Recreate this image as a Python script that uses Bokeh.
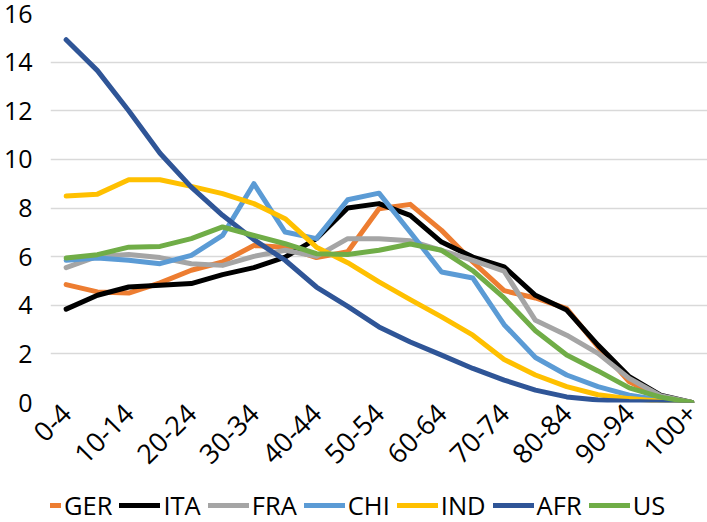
import math
from bokeh.plotting import figure
from bokeh.layouts import column
from bokeh.models import Range1d, FixedTicker, SingleIntervalTicker, Legend, LegendItem
from bokeh.embed import file_html
from bokeh.resources import INLINE

cats = ["0-4", "5-9", "10-14", "15-19", "20-24", "25-29", "30-34", "35-39", "40-44",
        "45-49", "50-54", "55-59", "60-64", "65-69", "70-74", "75-79", "80-84",
        "85-89", "90-94", "95-99", "100+"]

GER = [4.85, 4.55, 4.5, 4.92, 5.44, 5.78, 6.46, 6.39, 5.96, 6.2, 7.97, 8.15, 7.08,
       5.78, 4.6, 4.3, 3.86, 2.29, 0.85, 0.23, 0.0]
ITA = [3.84, 4.41, 4.75, 4.82, 4.89, 5.26, 5.55, 5.98, 6.74, 8.0, 8.18, 7.7, 6.6,
       5.98, 5.58, 4.41, 3.8, 2.36, 1.06, 0.3, 0.0]
FRA = [5.55, 6.01, 6.09, 5.96, 5.71, 5.64, 6.01, 6.26, 6.01, 6.74, 6.74, 6.65, 6.26,
       5.85, 5.4, 3.38, 2.77, 2.02, 0.99, 0.28, 0.0]
CHI = [5.85, 5.94, 5.85, 5.71, 6.05, 6.87, 9.0, 7.01, 6.74, 8.34, 8.61, 7.0, 5.37,
       5.12, 3.2, 1.85, 1.13, 0.65, 0.3, 0.1, 0.0]
IND = [8.49, 8.57, 9.16, 9.16, 8.89, 8.59, 8.18, 7.56, 6.39, 5.75, 4.96, 4.23, 3.52,
       2.77, 1.77, 1.13, 0.65, 0.32, 0.16, 0.05, 0.0]
AFR = [14.92, 13.65, 12.0, 10.25, 8.86, 7.7, 6.7, 5.85, 4.75, 3.95, 3.11, 2.49, 1.95,
       1.40, 0.92, 0.51, 0.23, 0.1, 0.04, 0.01, 0.0]
US = [5.94, 6.08, 6.39, 6.42, 6.74, 7.22, 6.87, 6.53, 6.12, 6.09, 6.26, 6.52, 6.26,
      5.42, 4.3, 2.95, 1.95, 1.3, 0.6, 0.22, 0.0]

series_names = ["GER", "ITA", "FRA", "CHI", "IND", "AFR", "US"]
series_values = [GER, ITA, FRA, CHI, IND, AFR, US]
series_colors = ["#ED7D31", "#000000", "#A5A5A5", "#5B9BD5", "#FFC000", "#2F5597", "#70AD47"]

y_min, y_max, y_step = 0, 16, 2
label_every = 2

FONT = "Open Sans"
xs = list(range(len(cats)))
LW = 5

# ---- main chart ----
p = figure(width=707, height=475, output_backend="svg", toolbar_location=None,
           x_range=Range1d(-0.5, len(cats) - 0.5),
           y_range=Range1d(y_min, y_max))

p.min_border_top = 13
p.min_border_right = 0
p.min_border_bottom = 73
p.outline_line_color = None
p.background_fill_color = "white"
p.border_fill_color = "white"

for name, vals, col in zip(series_names, series_values, series_colors):
    p.line(x=xs, y=vals, line_color=col, line_width=LW,
           line_join="round", line_cap="round")

p.yaxis.ticker = SingleIntervalTicker(interval=y_step)
p.xaxis.ticker = FixedTicker(ticks=xs[::label_every])
p.xaxis.major_label_overrides = {i: cats[i] for i in xs}
for ax in (p.xaxis[0], p.yaxis[0]):
    ax.axis_line_color = None
    ax.major_tick_line_color = None
    ax.minor_tick_line_color = None
    ax.major_tick_in = 0
    ax.major_tick_out = 0
    ax.major_label_text_font = FONT
    ax.major_label_text_color = "#000000"
    ax.major_label_text_font_size = "25px"

p.xaxis.major_label_text_font_size = "27px"
p.yaxis.major_label_standoff = 14
p.xaxis.major_label_standoff = 6
p.xaxis.major_label_orientation = math.pi / 4

p.xgrid.grid_line_color = None
p.ygrid.grid_line_color = "#D9D9D9"
p.ygrid.grid_line_width = 1.5

# ---- legend strip ----
lg = figure(width=707, height=47, output_backend="svg", toolbar_location=None,
            x_axis_location=None, y_axis_location=None,
            x_range=Range1d(0, 1), y_range=Range1d(0, 1))
lg.min_border = 0
lg.min_border_left = 0
lg.min_border_right = 0
lg.min_border_top = 0
lg.min_border_bottom = 0
lg.outline_line_color = None
lg.xgrid.grid_line_color = None
lg.ygrid.grid_line_color = None
lg.background_fill_color = "white"
lg.border_fill_color = "white"

items = []
for name, col in zip(series_names, series_colors):
    # single off-range point: nothing drawn in the strip, only the legend swatch
    r = lg.line(x=[-5], y=[-5], line_color=col, line_width=LW, line_cap="round")
    items.append(LegendItem(label=name, renderers=[r]))

legend = Legend(items=items, orientation="horizontal", location=(-30, 0),
                label_text_font=FONT, label_text_font_size="25.5px",
                label_text_color="#000000",
                glyph_width=41, glyph_height=20, label_standoff=3, spacing=7,
                padding=0, margin=0, border_line_color=None,
                background_fill_alpha=0)
lg.add_layout(legend, "center")

layout = column(p, lg, spacing=0)
open("out.html", "w").write(file_html(layout, INLINE))
